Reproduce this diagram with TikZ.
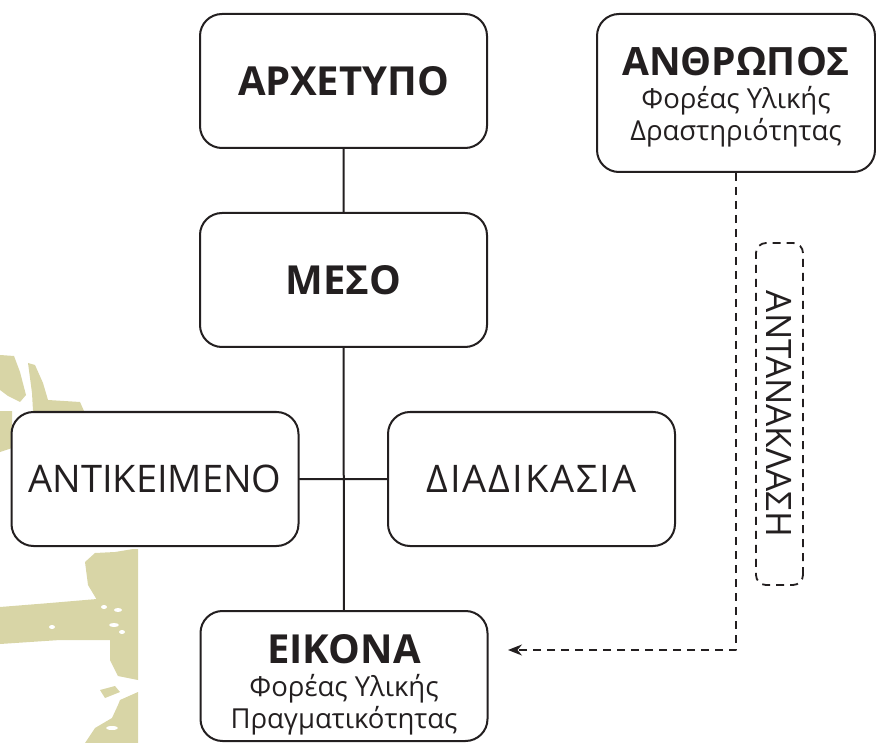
\documentclass[tikz,border=0pt]{standalone}
\usepackage{fontspec}
\setmainfont{Open Sans}
\usetikzlibrary{arrows.meta}
\definecolor{ink}{RGB}{35,31,32}
\definecolor{brushcol}{RGB}{216,213,166}
\begin{document}
\begin{tikzpicture}[x=1pt,y=-1pt,line join=round,line cap=round,>={Stealth[length=14pt,width=11pt]}]
	\tikzset{box/.style={draw=ink,line width=2pt,fill=white,rounded corners=22pt,inner sep=0pt,
			minimum width=287pt,minimum height=134pt,align=center,text=ink,font=\fontsize{38}{38}\selectfont},
		bold/.style={font=\fontsize{40}{40}\selectfont\bfseries},
		twoline/.style={font=\fontsize{27.5}{32.5}\selectfont},
		dashline/.style={draw=ink,line width=1.8pt,dash pattern=on 8pt off 6pt,line cap=butt},
		link/.style={draw=ink,line width=2pt}}
	\useasboundingbox (0,0) rectangle (876,743);
	% brush texture on the left
	\begin{scope}
		\clip (0,330) rectangle (138,743);
		\fill[brushcol] (0,355)--(14,356)--(20,372)--(26,395)--(20,402)--(8,396)--(0,390)--cycle;
		\fill[brushcol] (28,363)--(35,365)--(43,383)--(48,400)--(80,402)--(84,411)--(33,411)--(32,393)--cycle;
		\fill[brushcol] (0,411)--(12,411)--(12,448)--(0,452)--cycle;
		\fill[brushcol] (85,562)--(95,553)--(115,552)--(133,549)--(138,549)--(138,680)--(118,676)--(110,660)--(110,640)--(97,636)--(97,600)--(88,585)--cycle;
		\fill[brushcol] (0,607)--(50,603)--(97,599)--(110,602)--(110,640)--(60,640)--(0,644)--cycle;
		\fill[brushcol] (100,690)--(115,686)--(120,692)--(105,698)--cycle;
		\fill[brushcol] (120,700)--(138,692)--(138,743)--(85,743)--(95,728)--(112,718)--(118,705)--cycle;
		\fill[white] (52,627) ellipse (3 and 2) (104,607) ellipse (3 and 2) (118,610) ellipse (4 and 2) (114,625) ellipse (5 and 2) (122,632) ellipse (3 and 2) (112,728) ellipse (6 and 2);
	\end{scope}
	\node[box,bold] (arx) at (343.5,81) {ΑΡΧΕΤΥΠΟ};
	\node[box,bold] (meso) at (343.5,280) {ΜΕΣΟ};
	\node[box] (antik) at (155,479) {ΑΝΤΙΚΕΙΜΕΝΟ};
	\node[box] (diad) at (531.5,479) {\addfontfeature{LetterSpace=5}ΔΙΑΔΙΚΑΣΙΑ};
	\node[box,twoline,minimum height=130pt] (eikona) at (344,676) {{\fontsize{40}{32}\bfseries\selectfont\rule{0pt}{47pt}ΕΙΚΟΝΑ}\\Φορέας Υλικής\\Πραγματικότητας};
	\node[box,twoline,minimum width=278pt,minimum height=158pt] (anthr) at (736,93) {{\fontsize{39}{32}\bfseries\selectfont\rule{0pt}{37pt}ΑΝΘΡΩΠΟΣ}\\Φορέας Υλικής\\Δραστηριότητας};
	\node[dashline,rounded corners=10pt,rotate=-90,inner sep=0pt,minimum width=342pt,minimum height=47pt,text=ink,font=\fontsize{35}{35}\selectfont] (antan) at (779.5,414) {ΑΝΤΑΝΑΚΛΑΣΗ};
	\coordinate (tip) at (508,650);
	\draw[link] (arx)--(meso) (meso)--(eikona) (antik)--(diad);
	\draw[dashline,->] (anthr.south)|-(tip);
\end{tikzpicture}
\end{document}
